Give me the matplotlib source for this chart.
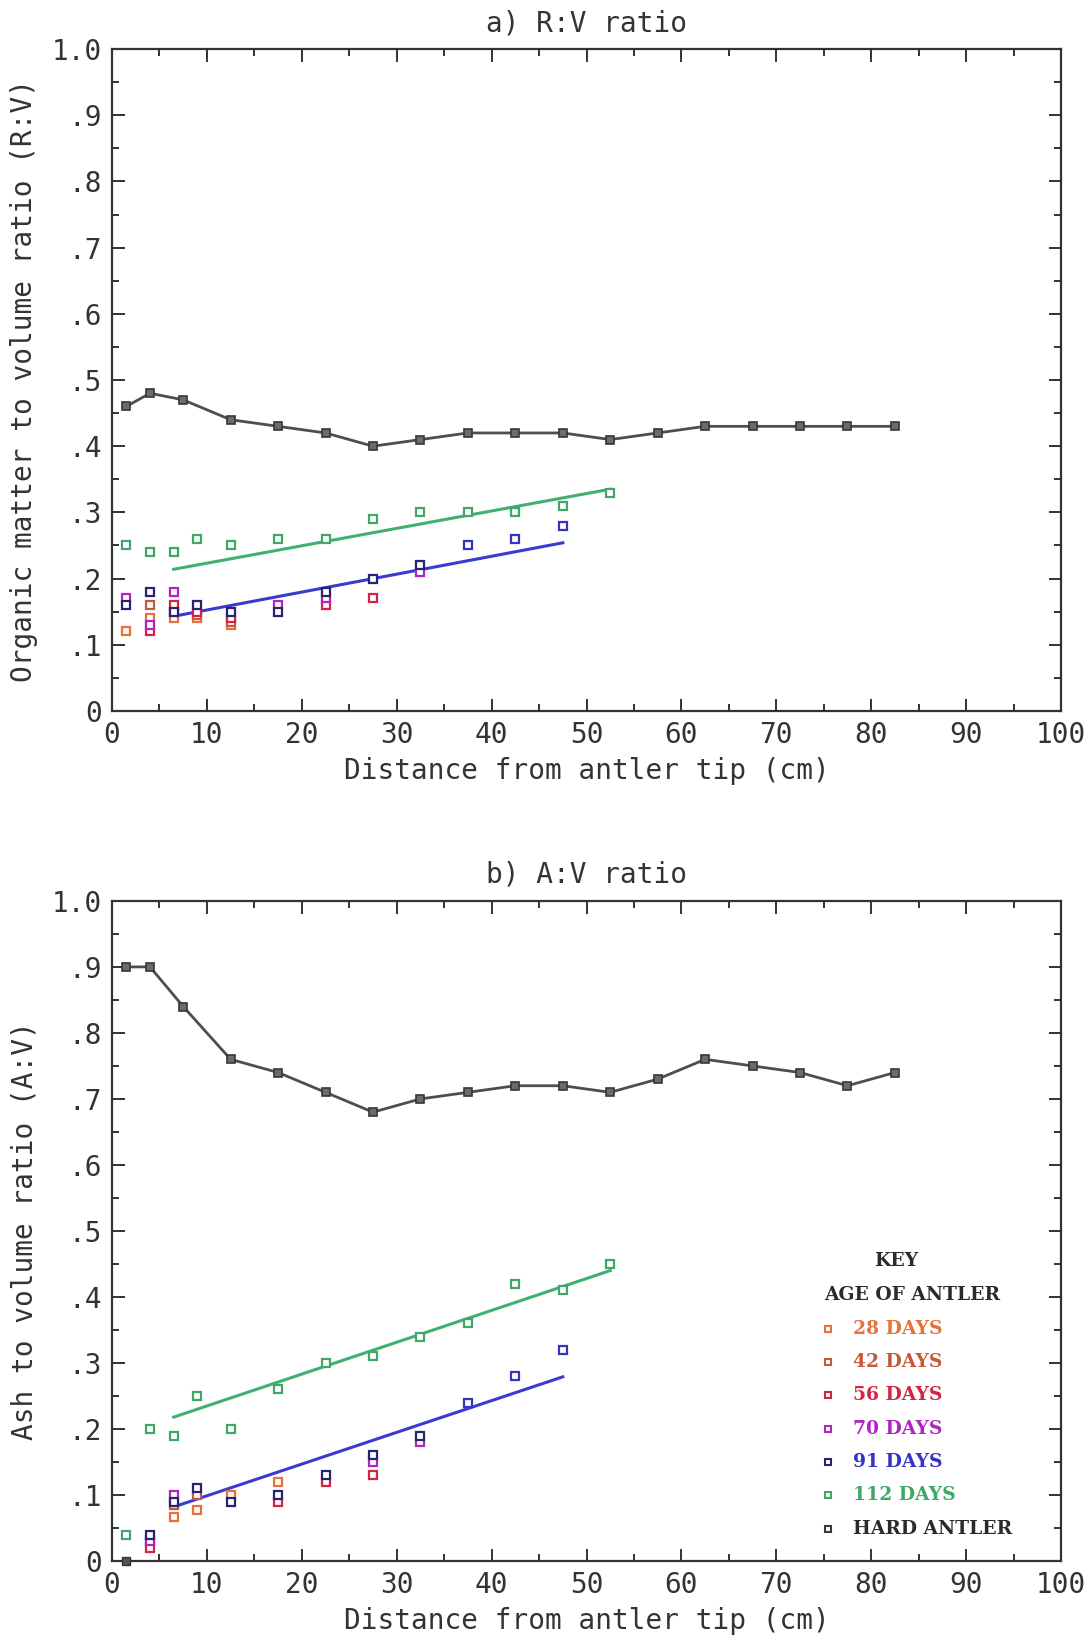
import numpy as np
import matplotlib.pyplot as plt
from matplotlib.ticker import MultipleLocator

# ---- datos ----
# panel a) R:V
hard_x = [1.5, 4, 7.5, 12.5, 17.5, 22.5, 27.5, 32.5, 37.5, 42.5, 47.5, 52.5,
          57.5, 62.5, 67.5, 72.5, 77.5, 82.5]
hard_rv = [0.46, 0.48, 0.47, 0.44, 0.43, 0.42, 0.40, 0.41, 0.42, 0.42, 0.42, 0.41,
           0.42, 0.43, 0.43, 0.43, 0.43, 0.43]
hard_av = [0.90, 0.90, 0.84, 0.76, 0.74, 0.71, 0.68, 0.70, 0.71, 0.72, 0.72, 0.71,
           0.73, 0.76, 0.75, 0.74, 0.72, 0.74]

d28_x_a = [1.5, 4, 6.5, 9, 12.5]
d28_rv = [0.12, 0.14, 0.14, 0.14, 0.13]
d42_x_a = [4, 6.5, 9, 12.5]
d42_rv = [0.16, 0.15, 0.145, 0.135]
d56_x_a = [4, 6.5, 9, 12.5, 22.5, 27.5]
d56_rv = [0.12, 0.16, 0.15, 0.14, 0.16, 0.17]
d70_x_a = [1.5, 4, 6.5, 17.5, 22.5, 32.5]
d70_rv = [0.17, 0.13, 0.18, 0.16, 0.17, 0.21]
d91_x_a = [1.5, 4, 6.5, 9, 12.5, 17.5, 22.5, 27.5, 32.5, 37.5, 42.5, 47.5]
d91_rv = [0.16, 0.18, 0.15, 0.16, 0.15, 0.15, 0.18, 0.20, 0.22, 0.25, 0.26, 0.28]
d112_x = [1.5, 4, 6.5, 9, 12.5, 17.5, 22.5, 27.5, 32.5, 37.5, 42.5, 47.5, 52.5]
d112_rv = [0.25, 0.24, 0.24, 0.26, 0.25, 0.26, 0.26, 0.29, 0.30, 0.30, 0.30, 0.31, 0.33]

# panel b) A:V
d28_x_b = [6.5, 9, 12.5, 17.5]
d28_av = [0.067, 0.077, 0.10, 0.12]
d42_x_b = [4, 6.5, 9]
d42_av = [0.03, 0.085, 0.10]
d56_x_b = [4, 17.5, 22.5, 27.5]
d56_av = [0.02, 0.09, 0.12, 0.13]
d70_x_b = [4, 6.5, 27.5, 32.5]
d70_av = [0.03, 0.10, 0.15, 0.18]
d91_x_b = [1.5, 4, 6.5, 9, 12.5, 17.5, 22.5, 27.5, 32.5, 37.5, 42.5, 47.5]
d91_av = [0.0, 0.04, 0.09, 0.11, 0.09, 0.10, 0.13, 0.16, 0.19, 0.24, 0.28, 0.32]
d112_av = [0.04, 0.20, 0.19, 0.25, 0.20, 0.26, 0.30, 0.31, 0.34, 0.36, 0.42, 0.41, 0.45]

# rectas de regresion (extremos)
fit112_x = [6.5, 52.5]
fit91_x = [6.5, 47.5]
fit112_rv = [0.214, 0.335]
fit91_rv = [0.143, 0.254]
fit112_av = [0.218, 0.44]
fit91_av = [0.082, 0.279]

ytick_vals = [0, 0.1, 0.2, 0.3, 0.4, 0.5, 0.6, 0.7, 0.8, 0.9, 1.0]
ytick_labels = ['0', '.1', '.2', '.3', '.4', '.5', '.6', '.7', '.8', '.9', '1.0']

key_labels = ['28 DAYS', '42 DAYS', '56 DAYS', '70 DAYS', '91 DAYS', '112 DAYS', 'HARD ANTLER']

# colores
c28, c42, c56, c70 = '#e8703a', '#c45a3c', '#d42444', '#b024c4'
c91, c91_dark, c112 = '#3434c4', '#262470', '#3fa866'
c_hard = '#524c4c'
key_text_colors = [c28, c42, c56, c70, c91, c112, '#2a2a2a']
key_marker_colors = [c28, c42, c56, c70, c91_dark, c112, '#3a3a3a']

mono = 'DejaVu Sans Mono'
txt = '#333333'

fig = plt.figure(figsize=(10.92, 16.38), dpi=100)
ax_a = fig.add_axes([0.1026, 0.566, 0.869, 0.404])
ax_b = fig.add_axes([0.1026, 0.047, 0.869, 0.403])


def open_sq(ax, x, y, color):
    ax.plot(x, y, 's', ls='none', ms=5.5, mfc='white', mec=color, mew=1.6, zorder=4)


def estilo(ax, titulo, ylabel):
    ax.set_xlim(0, 100)
    ax.set_ylim(0, 1.0)
    ax.xaxis.set_major_locator(MultipleLocator(10))
    ax.xaxis.set_minor_locator(MultipleLocator(5))
    ax.set_yticks(ytick_vals)
    ax.set_yticklabels(ytick_labels)
    ax.yaxis.set_minor_locator(MultipleLocator(0.05))
    ax.tick_params(which='both', direction='in', top=True, right=True,
                   color=txt, width=1.4)
    ax.tick_params(which='major', length=9, labelsize=20, pad=7)
    ax.tick_params(which='minor', length=5)
    for lab in ax.get_xticklabels() + ax.get_yticklabels():
        lab.set_family(mono)
        lab.set_color(txt)
    for s in ax.spines.values():
        s.set_color(txt)
        s.set_linewidth(1.6)
    ax.set_title(titulo, family=mono, fontsize=20, color=txt, pad=13)
    ax.set_xlabel('Distance from antler tip (cm)', family=mono, fontsize=20,
                  color=txt, labelpad=6)
    ax.set_ylabel(ylabel, family=mono, fontsize=20, color=txt, labelpad=10)


# ---- panel a ----
ax_a.plot(hard_x, hard_rv, '-', color=c_hard, lw=2, zorder=3)
ax_a.plot(hard_x, hard_rv, 's', ms=6, mfc='#716a6a', mec='#3a3636', mew=1.2, zorder=4)
ax_a.plot(fit112_x, fit112_rv, '-', color='#40b070', lw=2.2, zorder=3)
ax_a.plot(fit91_x, fit91_rv, '-', color='#3a3ad0', lw=2.2, zorder=3)
open_sq(ax_a, d112_x, d112_rv, c112)
open_sq(ax_a, d28_x_a, d28_rv, c28)
open_sq(ax_a, d42_x_a, d42_rv, c42)
open_sq(ax_a, d56_x_a, d56_rv, c56)
open_sq(ax_a, d70_x_a, d70_rv, c70)
open_sq(ax_a, d91_x_a[:9], d91_rv[:9], c91_dark)
open_sq(ax_a, d91_x_a[9:], d91_rv[9:], c91)
estilo(ax_a, 'a) R:V ratio', 'Organic matter to volume ratio (R:V)')

# ---- panel b ----
ax_b.plot(hard_x, hard_av, '-', color=c_hard, lw=2, zorder=3)
ax_b.plot(hard_x, hard_av, 's', ms=6, mfc='#716a6a', mec='#3a3636', mew=1.2, zorder=4)
ax_b.plot(fit112_x, fit112_av, '-', color='#40b070', lw=2.2, zorder=3)
ax_b.plot(fit91_x, fit91_av, '-', color='#3a3ad0', lw=2.2, zorder=3)
open_sq(ax_b, d112_x, d112_av, c112)
open_sq(ax_b, d28_x_b, d28_av, c28)
open_sq(ax_b, d42_x_b, d42_av, c42)
open_sq(ax_b, d56_x_b, d56_av, c56)
open_sq(ax_b, d70_x_b, d70_av, c70)
ax_b.plot(d91_x_b[:1], d91_av[:1], 's', ms=6, mfc='#5a5050', mec='#333333', zorder=4,
          clip_on=False)
open_sq(ax_b, d91_x_b[1:9], d91_av[1:9], c91_dark)
open_sq(ax_b, d91_x_b[9:], d91_av[9:], c91)
estilo(ax_b, 'b) A:V ratio', 'Ash to volume ratio (A:V)')

# ---- clave ----
serif = dict(family='DejaVu Serif', weight='bold', fontsize=13.5)
ax_b.text(0.826, 0.455, 'KEY', transform=ax_b.transAxes, ha='center', va='center',
          color='#2a2a2a', **serif)
ax_b.text(0.75, 0.403, 'AGE OF ANTLER', transform=ax_b.transAxes, ha='left', va='center',
          color='#2a2a2a', **serif)
for i, (lab, tc, mc) in enumerate(zip(key_labels, key_text_colors, key_marker_colors)):
    yy = 0.352 - i * 0.0505
    ax_b.plot([0.755], [yy], 's', transform=ax_b.transAxes, ms=5, mfc='white', mec=mc,
              mew=1.5)
    ax_b.text(0.781, yy, lab, transform=ax_b.transAxes, ha='left', va='center',
              color=tc, **serif)

fig.savefig('out.png', dpi=100)
